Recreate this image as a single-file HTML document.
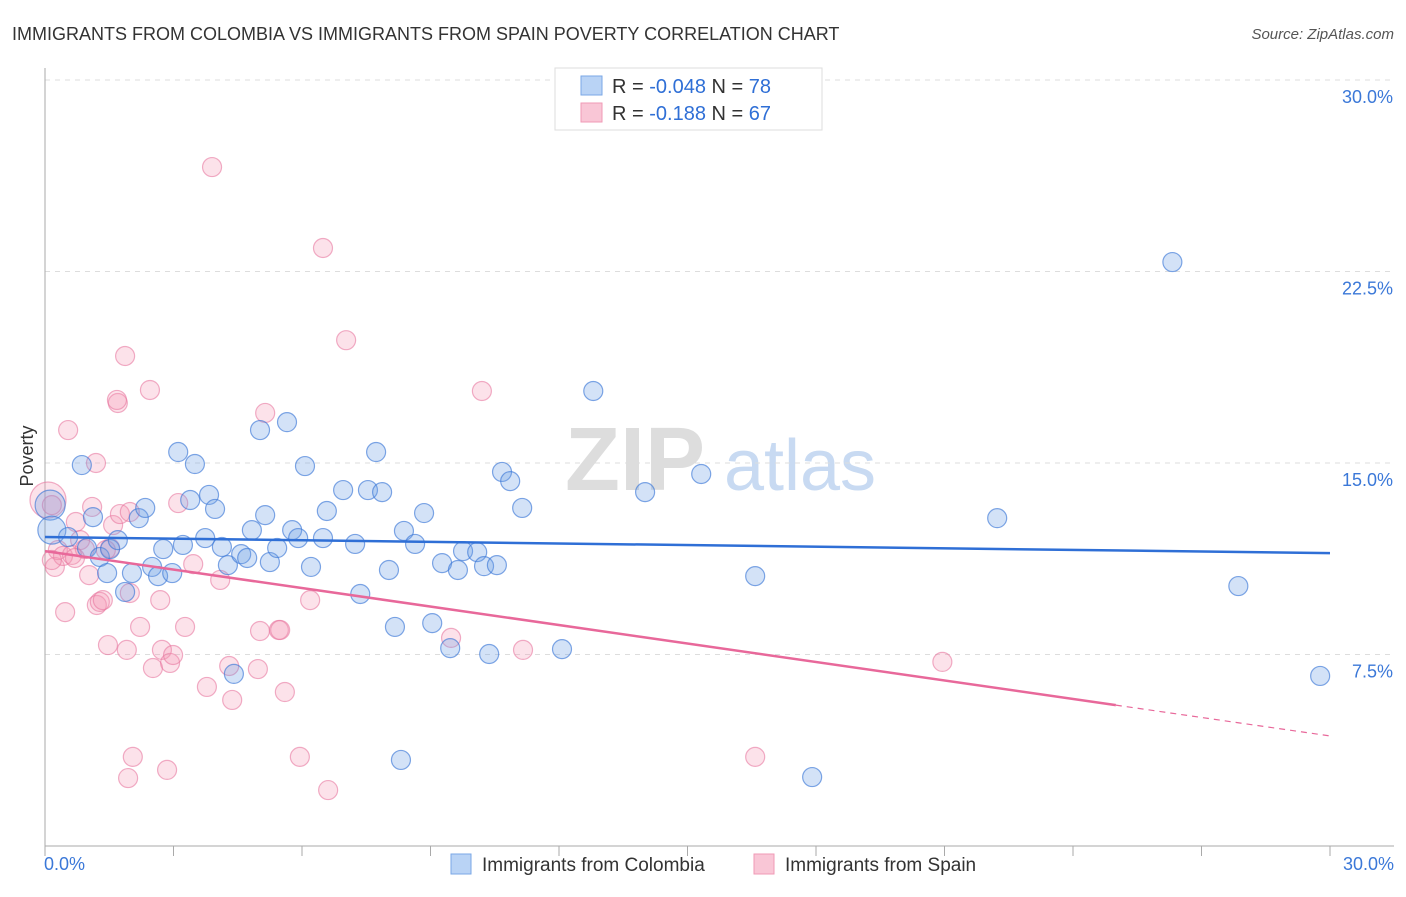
<!DOCTYPE html>
<html><head><meta charset="utf-8"><style>
body{margin:0;background:#fff;font-family:"Liberation Sans",sans-serif;}
svg text{font-family:"Liberation Sans",sans-serif;}
</style></head><body>
<svg id="chart" width="1406" height="892">
<text x="12" y="40" font-size="18" fill="#333">IMMIGRANTS FROM COLOMBIA VS IMMIGRANTS FROM SPAIN POVERTY CORRELATION CHART</text>
<text x="1394" y="39" font-size="15" fill="#555" text-anchor="end" font-style="italic">Source: ZipAtlas.com</text>
<g><text x="635" y="490" font-size="90" fill="#ddd" text-anchor="middle" font-family="Liberation Serif" font-weight="bold">ZIP</text><text x="800" y="490" font-size="72" fill="#c8daf2" text-anchor="middle">atlas</text></g>
<g id="grid"></g><g id="axes"></g><g id="pts"></g><g id="lines"></g>
<text x="33" y="456" font-size="18" fill="#333" text-anchor="middle" transform="rotate(-90 33 456)">Poverty</text>
<g>
<rect x="555" y="68" width="267" height="62" fill="#fff" stroke="#ddd"/>
<rect x="581" y="76" width="21" height="19" fill="#b9d3f5" stroke="#7aa7e6"/>
<rect x="581" y="103" width="21" height="19" fill="#f9c6d6" stroke="#f09ab6"/>
<text x="612" y="93" font-size="20" fill="#333">R = <tspan fill="#2f6fd6">-0.048</tspan>   N = <tspan fill="#2f6fd6">78</tspan></text>
<text x="612" y="120" font-size="20" fill="#333">R =  <tspan fill="#2f6fd6">-0.188</tspan>   N = <tspan fill="#2f6fd6">67</tspan></text>
</g>
<g>
<rect x="451" y="854" width="20" height="20" fill="#b9d3f5" stroke="#7aa7e6"/>
<text x="482" y="871" font-size="19" fill="#333">Immigrants from Colombia</text>
<rect x="754" y="854" width="20" height="20" fill="#f9c6d6" stroke="#f09ab6"/>
<text x="785" y="871" font-size="19" fill="#333">Immigrants from Spain</text>
</g>
</svg>
<script>
const yTicks=[7.5,15,22.5,30];
const yTickLabels=["7.5%","15.0%","22.5%","30.0%"];
const xTickLabels=["0.0%","30.0%"];
const colX=[.12,.16,.54,.86,1.12,.98,1.28,1.52,1.70,1.45,1.87,2.03,2.19,2.34,2.50,2.64,2.76,2.97,3.11,3.22,3.39,3.50,3.74,3.83,3.97,4.13,4.27,4.41,4.58,4.72,4.83,5.02,5.14,5.25,5.42,5.65,5.77,5.91,6.07,6.21,6.49,6.58,6.96,7.24,7.36,7.54,7.87,7.73,8.03,8.17,8.38,8.31,8.64,8.85,9.04,9.27,9.46,9.64,9.76,10.09,10.37,10.25,10.55,10.67,10.86,11.14,12.07,12.80,14.01,15.32,16.58,17.91,22.23,26.32,27.86,29.77];
const colY=[13.35,12.37,12.10,14.92,12.88,11.67,11.32,11.63,11.98,10.69,9.95,10.69,12.84,13.24,10.93,10.57,11.63,10.69,15.43,11.79,13.55,14.96,12.06,13.75,13.20,11.71,11.00,6.74,11.43,11.28,12.37,16.29,12.96,11.12,11.67,16.60,12.37,12.06,14.88,10.93,12.06,13.12,13.94,11.83,9.87,13.94,13.86,15.43,10.81,8.58,12.34,3.37,11.83,13.04,8.73,11.08,7.75,10.81,11.55,11.51,7.52,10.96,11.00,14.65,14.29,13.24,7.71,17.82,13.86,14.57,10.57,2.70,12.84,22.87,10.18,6.66];
const spX=[.07,.16,.23,.30,.42,.54,.63,.72,.82,.93,1.03,1.19,1.10,1.21,1.28,1.35,1.52,1.59,1.70,1.68,1.75,1.87,1.91,1.94,1.98,2.05,2.22,2.45,2.52,2.69,2.73,2.85,2.92,2.99,3.11,3.27,3.46,3.78,3.90,4.09,4.30,4.37,4.97,5.02,5.14,5.46,5.60,5.95,6.19,6.49,6.61,7.03,9.48,10.20,11.16,16.58,20.95,.47,.70,1.47,.16,5.49,1.42,1.98];
const spY=[13.55,13.35,10.93,11.59,11.36,16.29,11.40,12.69,11.98,11.63,10.61,15.00,13.28,9.44,9.56,9.63,11.67,12.57,17.35,17.47,13.00,19.19,7.68,2.66,9.91,3.49,8.58,17.86,6.97,9.63,7.68,2.98,7.17,7.48,13.43,8.58,11.04,6.23,26.59,10.42,7.05,5.72,6.93,8.42,16.96,8.46,6.03,3.49,9.63,23.42,2.19,19.81,8.15,17.82,7.68,3.49,7.21,9.16,11.28,7.87,11.20,8.46,11.59,13.08];
const colTrend=[12.10,11.47];
const spTrend=[11.55,4.31];
const spSolidEnd=25;
const X0=45,X1=1330,Y0=846,Y30=80;
const sx=v=>X0+(X1-X0)*v/30, sy=v=>Y0-(Y0-Y30)*v/30;
const NS="http://www.w3.org/2000/svg";
function mk(t,a,p){const e=document.createElementNS(NS,t);for(const k in a)e.setAttribute(k,a[k]);p.appendChild(e);return e;}
const grid=document.getElementById('grid'),axes=document.getElementById('axes'),pts=document.getElementById('pts'),lines=document.getElementById('lines');
yTicks.forEach((t,i)=>{
 const l=mk('line',{x1:X0,x2:1394,y1:sy(t),y2:sy(t),stroke:'#ddd','stroke-dasharray':'5,5'},grid);
 
 
 const tx=mk('text',{x:1393,y:sy(t)+23,'font-size':18,fill:'#3b78d8','text-anchor':'end'},axes);tx.textContent=yTickLabels[i];
 
 
});
let a=mk('line',{x1:X0,x2:X0,y1:68,y2:Y0,stroke:'#aaa'},axes);


a=mk('line',{x1:X0,x2:1394,y1:Y0,y2:Y0,stroke:'#aaa'},axes);


for(let k=0;k<=10;k++){const t=mk('line',{x1:sx(k*3),x2:sx(k*3),y1:Y0,y2:Y0+10,stroke:'#aaa'},axes);
 
 }
[[0,44,'start'],[30,1394,'end']].forEach((d,i)=>{const t=mk('text',{x:d[1],y:870,'font-size':18,fill:'#3b78d8','text-anchor':d[2]},axes);t.textContent=xTickLabels[i];
 
 });
function scatter(X,Y,fill,stroke,name,big){X.forEach((x,i)=>{
 const c=mk('circle',{cx:sx(x),cy:sy(Y[i]),r:(big[i]||9.5),fill:fill,stroke:stroke,'stroke-width':1.2},pts);
 
 });}
scatter(spX,spY,'rgba(244,150,180,0.28)','rgba(232,120,160,0.6)','point-spain',{0:18});
scatter(colX,colY,'rgba(110,160,230,0.3)','rgba(60,120,215,0.65)','point-colombia',{0:15,1:14});
let ln=mk('line',{x1:sx(0),y1:sy(colTrend[0]),x2:sx(30),y2:sy(colTrend[1]),stroke:'#2f6fd6','stroke-width':2.5},lines);


const spAt=x=>spTrend[0]+(spTrend[1]-spTrend[0])*x/30;
ln=mk('line',{x1:sx(0),y1:sy(spTrend[0]),x2:sx(spSolidEnd),y2:sy(spAt(spSolidEnd)),stroke:'#e8689a','stroke-width':2.5},lines);


ln=mk('line',{x1:sx(spSolidEnd),y1:sy(spAt(spSolidEnd)),x2:sx(30),y2:sy(spTrend[1]),stroke:'#e8689a','stroke-width':1.2,'stroke-dasharray':'6,5'},lines);


</script>
</body></html>
